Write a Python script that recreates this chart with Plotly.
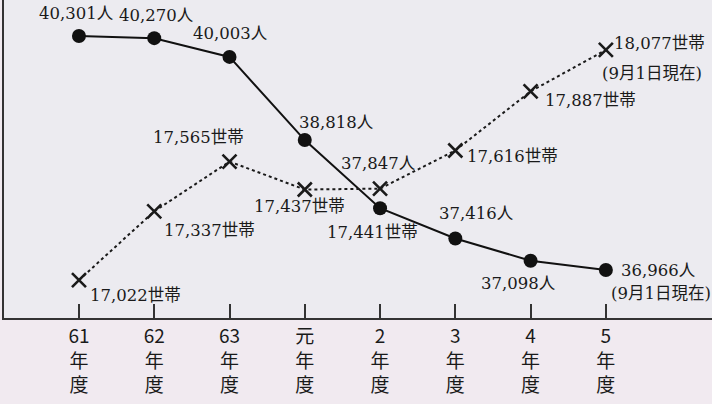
import plotly.graph_objects as go

years = ["61<br>年<br>度", "62<br>年<br>度", "63<br>年<br>度", "元<br>年<br>度",
         "2<br>年<br>度", "3<br>年<br>度", "4<br>年<br>度", "5<br>年<br>度"]
population = [40301, 40270, 40003, 38818, 37847, 37416, 37098, 36966]
households = [17022, 17337, 17565, 17437, 17441, 17616, 17887, 18077]
pop_labels = [f"{v:,}人" for v in population]
hh_labels = [f"{v:,}世帯" for v in households]
note = "(9月1日現在)"

xs = list(range(len(years)))

LABEL_FONT = dict(family="DejaVu Serif, Noto Sans CJK JP", size=16.5, color="#1a1a1a")

fig = go.Figure()
fig.add_trace(go.Scatter(
    x=xs, y=households, yaxis="y2", mode="lines+markers",
    line=dict(color="#1a1a1a", width=2, dash="dot"),
    marker=dict(symbol="x-thin", size=14, line=dict(color="#1a1a1a", width=2.6)),
    hoverinfo="skip", showlegend=False))
fig.add_trace(go.Scatter(
    x=xs, y=population, yaxis="y", mode="lines+markers",
    line=dict(color="#111111", width=2),
    marker=dict(symbol="circle", size=14, color="#111111"),
    hoverinfo="skip", showlegend=False))

# label placement styles: (xanchor, xshift, yshift)
pop_style = [("center", -2, 23), ("center", 2, 23), ("center", 1, 23), ("left", -8, 18),
             ("center", -2, 45), ("center", 21, 25), ("center", -12, -23), ("left", 13, 0)]
hh_style = [("left", 9, -15), ("left", 8, -19), ("center", -31, 24), ("center", -5, -17),
            ("center", -8, -44), ("left", 10, -6), ("left", 12, -9), ("left", 6, 6)]

ann = []
for i, (lab, v) in enumerate(zip(pop_labels, population)):
    xa, xsh, ysh = pop_style[i]
    ann.append(dict(x=xs[i], y=v, xref="x", yref="y", text=lab, showarrow=False,
                    xanchor=xa, yanchor="middle", xshift=xsh, yshift=ysh, font=LABEL_FONT))
for i, (lab, v) in enumerate(zip(hh_labels, households)):
    xa, xsh, ysh = hh_style[i]
    ann.append(dict(x=xs[i], y=v, xref="x", yref="y2", text=lab, showarrow=False,
                    xanchor=xa, yanchor="middle", xshift=xsh, yshift=ysh, font=LABEL_FONT))
ann.append(dict(x=xs[-1], y=population[-1], xref="x", yref="y", text=note, showarrow=False,
                xanchor="left", yanchor="middle", xshift=3, yshift=-23, font=LABEL_FONT))
ann.append(dict(x=xs[-1], y=households[-1], xref="x", yref="y2", text=note, showarrow=False,
                xanchor="left", yanchor="middle", xshift=-6, yshift=-24, font=LABEL_FONT))

fig.update_layout(
    width=712, height=404,
    margin=dict(l=4, r=0, t=0, b=86),
    paper_bgcolor="#f1eaf0", plot_bgcolor="#ecebf0",
    annotations=ann,
    xaxis=dict(range=[-0.996, 8.41], tickmode="array", tickvals=xs, ticktext=years,
               ticks="inside", ticklen=14, tickwidth=1.5, tickcolor="#333333",
               showline=True, linecolor="#333333", linewidth=2,
               showgrid=False, zeroline=False,
               tickfont=dict(family="Noto Sans CJK JP", size=19, color="#1a1a1a")),
    yaxis=dict(range=[36282, 40814], showgrid=False, zeroline=False, showticklabels=False,
               showline=True, linecolor="#333333", linewidth=2, ticks=""),
    yaxis2=dict(range=[16848, 18306], overlaying="y", showgrid=False, zeroline=False,
                showticklabels=False, showline=False, ticks=""),
)

fig.write_html("out.html", config={"displayModeBar": False},
               post_script="document.body.style.margin='0';document.body.style.background='#f1eaf0';")
